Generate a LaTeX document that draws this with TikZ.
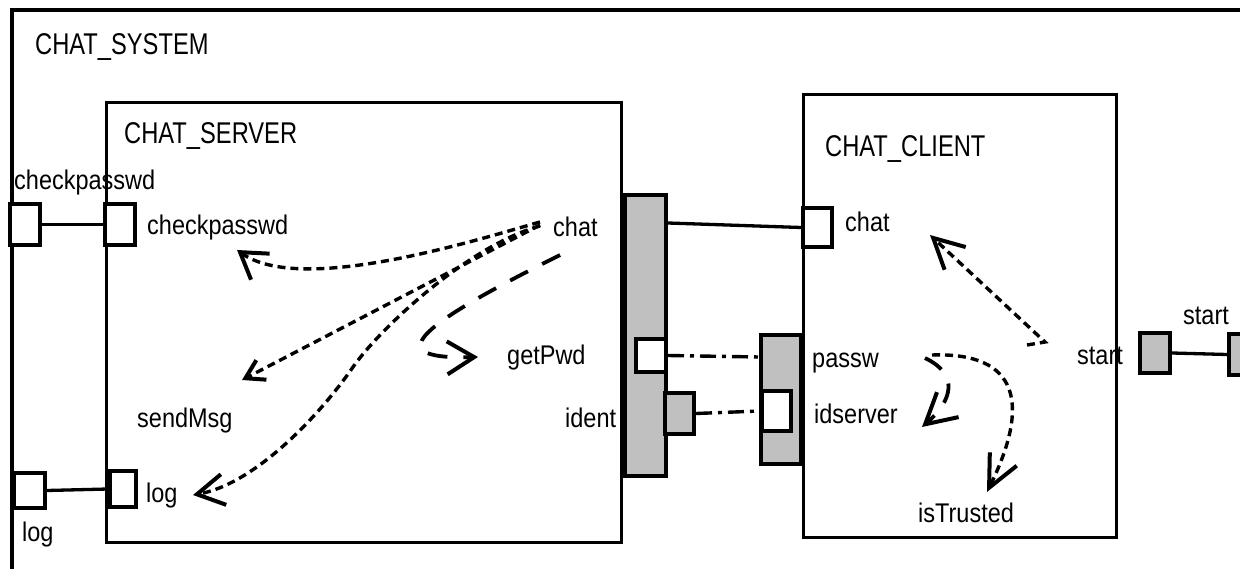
\documentclass[tikz,border=0pt]{standalone}
\usepackage{fontspec}
\setmainfont{Liberation Sans}
\newfontfamily\lblff{Liberation Sans}[FakeStretch=0.87]
\newfontfamily\ttlff{Liberation Sans}[FakeStretch=0.79]
\usetikzlibrary{arrows.meta}
\definecolor{portgray}{HTML}{C0C0C0}
\begin{document}
\begin{tikzpicture}[x=1pt,y=-1pt,
  lbl/.style={anchor=base west, inner sep=0pt, font=\lblff\fontsize{27}{30}\selectfont},
  ttl/.style={anchor=base west, inner sep=0pt, font=\ttlff\fontsize{30}{34}\selectfont},
  comp/.style={draw, line width=3.6pt, inner sep=0pt},
  port/.style={draw, line width=4pt, inner sep=0pt, fill=white},
  gport/.style={port, fill=portgray},
  wire/.style={line width=3.3pt},
  dd/.style={line width=3.4pt, dash pattern=on 16pt off 6pt on 4pt off 6pt},
  barb/.style 2 args={-{Straight Barb[length=#1, width=#2, line width=4pt]}},
  dotf/.style={line width=3.4pt, dash pattern=on 8pt off 5pt},
  dashf/.style={line width=3.8pt, dash pattern=on 20pt off 16pt},
]
\useasboundingbox (0,0) rectangle (1240,569);
\clip (0,0) rectangle (1240,569);
\fill[white] (0,0) rectangle (1240,569);

% component boxes
\node[comp, line width=4.2pt, minimum width=1288pt, minimum height=610pt] (sys) at (656,315) {};
\node[comp, minimum width=515pt, minimum height=440pt] (srv) at (364,322.5) {};
\node[comp, minimum width=313pt, minimum height=443pt] (cli) at (960,316) {};
\node[gport, minimum width=41pt, minimum height=281pt] (srvBar) at (645.5,335.5) {};
\node[gport, minimum width=40pt, minimum height=129pt] (cliBar) at (781,399.5) {};

% ports
\node[port, minimum width=30pt, minimum height=41pt] (pOutCP) at (25,224.5) {};
\node[port, minimum width=30pt, minimum height=41pt] (pInCP) at (120,224.5) {};
\node[port, minimum width=31pt, minimum height=35pt] (pOutLog) at (29.5,490.5) {};
\node[port, minimum width=26pt, minimum height=36pt] (pInLog) at (123,489) {};
\node[port, minimum width=30pt, minimum height=33pt] (pSrvW) at (651,355.5) {};
\node[gport, minimum width=29pt, minimum height=41pt] (pIdent) at (679.5,413.5) {};
\node[port, minimum width=29pt, minimum height=39pt] (pCliChat) at (817.5,227.5) {};
\node[port, minimum width=29pt, minimum height=40pt] (pCliW) at (776.5,411) {};
\node[gport, minimum width=30pt, minimum height=40pt] (pStart1) at (1155,353) {};
\node[gport, minimum width=31pt, minimum height=41pt] (pStart2) at (1244.5,354.5) {};

% wires
\draw[wire] (pOutCP.east) -- (pInCP.west);
\draw[wire] (pOutLog.east) -- (pInLog.west);
\draw[wire] (srvBar.east |- 0,223) -- (pCliChat.west);
\draw[wire] (pStart1.east) -- (pStart2.west);
\draw[dd] (pSrvW.east) -- (cliBar.west |- 0,357);
\draw[dd] (pIdent.east) -- (pCliW.west);

% labels
\node[ttl] (tSys) at (35,55) {CHAT\_SYSTEM};
\node[ttl] (tSrv) at (124,144) {CHAT\_SERVER};
\node[ttl] (tCli) at (825,157) {CHAT\_CLIENT};
\node[lbl] (lOutCP) at (14,190) {checkpasswd};
\node[lbl] (lInCP) at (147,235) {checkpasswd};
\node[lbl] (lSChat) at (553,237) {chat};
\node[lbl] (lGetPwd) at (507,365) {getPwd};
\node[lbl] (lSend) at (137,427) {sendMsg};
\node[lbl] (lIdent) at (565,427) {ident};
\node[lbl] (lInLog) at (146,502) {log};
\node[lbl] (lOutLog) at (22,541) {log};
\node[lbl] (lCChat) at (845,232) {chat};
\node[lbl] (lPassw) at (812,367) {passw};
\node[lbl] (lIdsrv) at (814,423) {idserver};
\node[lbl] (lTrust) at (918,522) {isTrusted};
\node[lbl] (lCStart) at (1077,365) {start};
\node[lbl] (lOStart) at (1183,325) {start};

% behaviour arrows
\coordinate (cA) at (540,222);
\coordinate (cB) at (540,225);
\coordinate (cC) at (540,226);
\coordinate (cD) at (560,255);
\coordinate (tCP) at (237,250);
\coordinate (tSend) at (242,380);
\coordinate (tLog) at (193,495);
\coordinate (tGet) at (478,357);
\coordinate (sSt) at (1027,345);
\coordinate (tCC) at (930,235);
\coordinate (sPw) at (932,355);
\coordinate (tTr) at (987,492);
\coordinate (sPw2) at (925,358);
\coordinate (tId) at (922,427);

\draw[dotf, barb={25pt}{32pt}] (cA) .. controls (470,242) and (300,295) .. (tCP);
\draw[dotf, barb={18pt}{22pt}] (cB) -- (tSend);
\draw[dotf, barb={27pt}{31pt}] (cC) .. controls (470,245) and (382,326) .. (353,367)
   .. controls (320,415) and (255,484) .. (tLog);
\draw[dashf, barb={27pt}{33pt}] (cD) .. controls (430,320) and (370,360) .. (tGet);
\draw[dotf, barb={30pt}{31pt}] (sSt) -- (1045,342) -- (tCC);
\draw[dotf, barb={32pt}{30pt}] (sPw) .. controls (1020,352) and (1030,405) .. (tTr);
\draw[dashf, barb={30pt}{33pt}] (sPw2) .. controls (960,375) and (952,401) .. (tId);
\end{tikzpicture}
\end{document}
